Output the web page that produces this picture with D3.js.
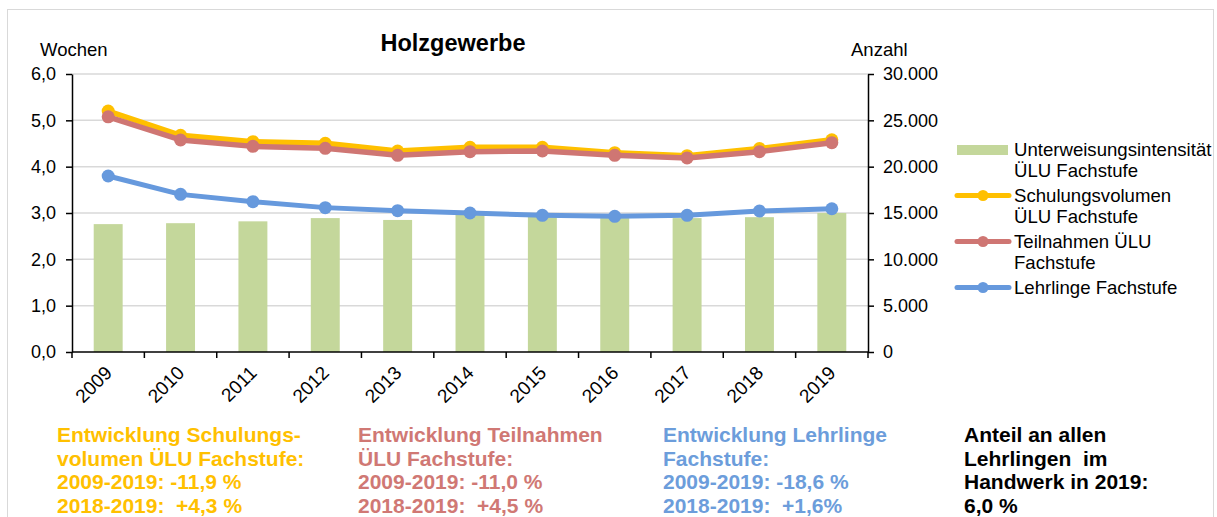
<!DOCTYPE html>
<html>
<head>
<meta charset="utf-8">
<script src="https://cdn.jsdelivr.net/npm/d3@7.9.0/dist/d3.min.js"></script>
<style>
  body { margin: 0; background: #fff; }
  svg { font-family: "Liberation Sans", Arial, sans-serif; }
</style>
</head>
<body>
<svg id="chart" width="1217" height="517"></svg>
<script>
const years = ['2009', '2010', '2011', '2012', '2013', '2014', '2015', '2016', '2017', '2018', '2019'];
// Wochen (left axis)
const intensitaet = [2.76, 2.78, 2.82, 2.89, 2.85, 2.99, 2.92, 2.89, 2.89, 2.91, 3.0];
// Anzahl (right axis)
const schulungsvolumen = [26000, 23380, 22700, 22520, 21690, 22090, 22090, 21510, 21190, 21950, 22900];
const teilnahmen = [25380, 22880, 22190, 21980, 21220, 21620, 21690, 21220, 20940, 21620, 22590];
const lehrlinge = [18990, 17010, 16220, 15580, 15250, 15000, 14750, 14640, 14750, 15215, 15460];

const leftTicks = [0, 1, 2, 3, 4, 5, 6];
const rightTicks = [0, 5000, 10000, 15000, 20000, 25000, 30000];

const notes = [
  { color: '#FFC000', lines: ['Entwicklung Schulungs-', 'volumen ÜLU Fachstufe:', '2009-2019: -11,9 %', '2018-2019:  +4,3 %'] },
  { color: '#D07874', lines: ['Entwicklung Teilnahmen', 'ÜLU Fachstufe:', '2009-2019: -11,0 %', '2018-2019:  +4,5 %'] },
  { color: '#6C9DDB', lines: ['Entwicklung Lehrlinge', 'Fachstufe:', '2009-2019: -18,6 %', '2018-2019:  +1,6%'] },
  { color: '#000000', lines: ['Anteil an allen', 'Lehrlingen  im', 'Handwerk in 2019:', '6,0 %'] }
];

const GREEN = '#C4D79B', YELLOW = '#FFC000', RED = '#CF7673', BLUE = '#6699DD';

const svg = d3.select('#chart');

// frame
svg.append('rect')
  .attr('x', 7.5).attr('y', 9.5).attr('width', 1206).attr('height', 540)
  .attr('fill', 'none').attr('stroke', '#d9d9d9');

const plotLeft = 72, plotRight = 868, plotTop = 74, plotBottom = 352;

const x = d3.scaleBand().domain(years).range([plotLeft, plotRight]).padding(0);
const yL = d3.scaleLinear().domain([0, 6]).range([plotBottom, plotTop]);
const yR = d3.scaleLinear().domain([0, 30000]).range([plotBottom, plotTop]);

// gridlines
svg.append('g')
  .selectAll('line')
  .data(leftTicks.filter(d => d > 0))
  .join('line')
  .attr('x1', plotLeft).attr('x2', plotRight)
  .attr('y1', d => yL(d)).attr('y2', d => yL(d))
  .attr('stroke', '#d9d9d9').attr('stroke-width', 1.5);

// bars
const barW = x.bandwidth() * 0.4;
svg.append('g')
  .selectAll('rect')
  .data(intensitaet)
  .join('rect')
  .attr('x', (d, i) => x(years[i]) + (x.bandwidth() - barW) / 2)
  .attr('width', barW)
  .attr('y', d => yL(d))
  .attr('height', d => yL(0) - yL(d))
  .attr('fill', GREEN);

// axes
const fmtL = d => d3.format('.1f')(d).replace('.', ',');
const fmtR = d => d3.format(',')(d).replace(/,/g, '.');

const axL = svg.append('g')
  .attr('transform', `translate(${plotLeft},0)`)
  .call(d3.axisLeft(yL).tickValues(leftTicks).tickFormat(fmtL).tickSize(6).tickSizeOuter(0).tickPadding(10));
const axR = svg.append('g')
  .attr('transform', `translate(${plotRight},0)`)
  .call(d3.axisRight(yR).tickValues(rightTicks).tickFormat(fmtR).tickSize(6).tickSizeOuter(0).tickPadding(9));
[axL, axR].forEach(a => {
  a.selectAll('text').attr('font-size', 18).attr('font-family', '"Liberation Sans", Arial, sans-serif').attr('fill', '#000');
  a.selectAll('line, path').attr('stroke', '#000').attr('stroke-width', 1.5);
});

// x axis
const axX = svg.append('g');
axX.append('line')
  .attr('x1', plotLeft).attr('x2', plotRight)
  .attr('y1', plotBottom).attr('y2', plotBottom)
  .attr('stroke', '#000').attr('stroke-width', 1.5);
axX.selectAll('line.tick')
  .data(years.map(y => x(y)).concat([plotRight]))
  .join('line')
  .attr('class', 'tick')
  .attr('x1', d => d).attr('x2', d => d)
  .attr('y1', plotBottom).attr('y2', plotBottom + 6)
  .attr('stroke', '#000').attr('stroke-width', 1.5);
axX.selectAll('text')
  .data(years)
  .join('text')
  .attr('transform', d => `translate(${x(d) + x.bandwidth() / 2 + 5},${plotBottom + 22}) rotate(-45)`)
  .attr('text-anchor', 'end')
  .attr('font-size', 19)
  .text(d => d);

// lines
const cx = i => x(years[i]) + x.bandwidth() / 2;
function drawSeries(values, color, width) {
  const line = d3.line().x((d, i) => cx(i)).y(d => yR(d));
  svg.append('path')
    .datum(values)
    .attr('d', line)
    .attr('fill', 'none')
    .attr('stroke', color)
    .attr('stroke-width', width)
    .attr('stroke-linejoin', 'round');
  svg.append('g')
    .selectAll('circle')
    .data(values)
    .join('circle')
    .attr('cx', (d, i) => cx(i))
    .attr('cy', d => yR(d))
    .attr('r', 6.5)
    .attr('fill', color);
}
drawSeries(schulungsvolumen, YELLOW, 5.5);
drawSeries(teilnahmen, RED, 5.5);
drawSeries(lehrlinge, BLUE, 5);

// titles
svg.append('text').attr('x', 453).attr('y', 51).attr('text-anchor', 'middle')
  .attr('font-size', 23.5).attr('font-weight', 'bold').text('Holzgewerbe');
svg.append('text').attr('x', 40).attr('y', 56).attr('font-size', 18.5).text('Wochen');
svg.append('text').attr('x', 851).attr('y', 56).attr('font-size', 18.5).text('Anzahl');

// legend
const legend = [
  { type: 'bar', color: GREEN, cy: 150, lines: ['Unterweisungsintensität', 'ÜLU Fachstufe'], base: 156 },
  { type: 'line', color: YELLOW, cy: 195.5, lines: ['Schulungsvolumen', 'ÜLU Fachstufe'], base: 202 },
  { type: 'line', color: RED, cy: 241.5, lines: ['Teilnahmen ÜLU', 'Fachstufe'], base: 248 },
  { type: 'line', color: BLUE, cy: 287.5, lines: ['Lehrlinge Fachstufe'], base: 294 }
];
const lg = svg.append('g');
legend.forEach(item => {
  if (item.type === 'bar') {
    lg.append('rect').attr('x', 957).attr('y', item.cy - 5).attr('width', 51).attr('height', 10).attr('fill', item.color);
  } else {
    lg.append('line').attr('x1', 957).attr('x2', 1009).attr('y1', item.cy).attr('y2', item.cy)
      .attr('stroke', item.color).attr('stroke-width', 5).attr('stroke-linecap', 'round');
    lg.append('circle').attr('cx', 983).attr('cy', item.cy).attr('r', 5.5).attr('fill', item.color);
  }
  item.lines.forEach((t, k) => {
    lg.append('text').attr('x', 1014).attr('y', item.base + k * 21).attr('font-size', 18.6).text(t);
  });
});

// notes below chart
const noteX = [57, 358, 663, 964];
notes.forEach((n, i) => {
  n.lines.forEach((t, k) => {
    svg.append('text')
      .attr('x', noteX[i]).attr('y', 442 + k * 23.7)
      .attr('font-size', 21).attr('font-weight', 'bold')
      .attr('fill', n.color)
      .style('white-space', 'pre')
      .text(t);
  });
});
</script>
</body>
</html>
